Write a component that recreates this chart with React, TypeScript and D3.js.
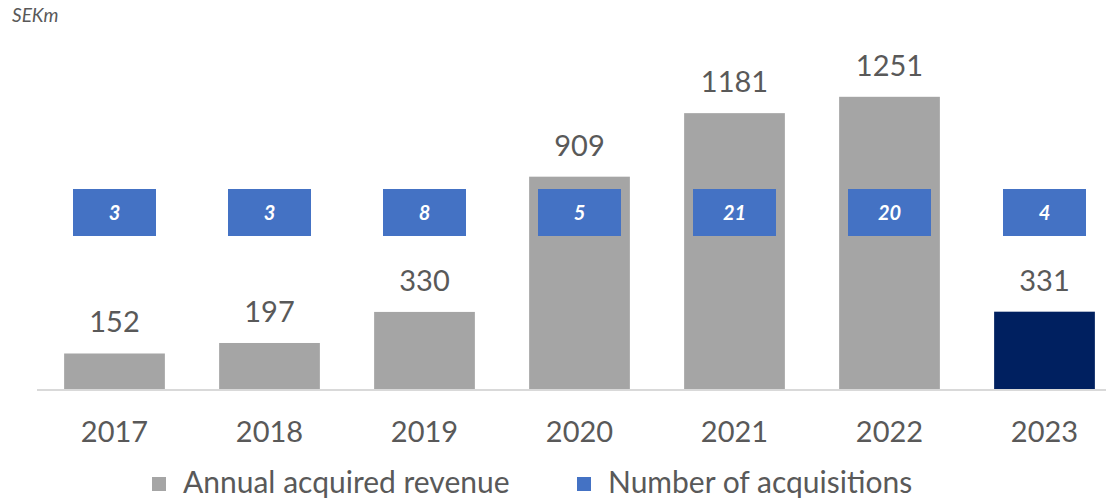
import * as d3 from "d3";
import { useEffect, useRef } from "react";

const years = ["2017", "2018", "2019", "2020", "2021", "2022", "2023"];
const revenue = [152, 197, 330, 909, 1181, 1251, 331];
const acquisitions = [3, 3, 8, 5, 21, 20, 4];
const highlightYear = "2023";
const legendItems = ["Annual acquired revenue", "Number of acquisitions"];

const W = 1106,
  H = 502;
const FONT = "Lato, 'Open Sans', sans-serif";

const App = () => {
  const ref = useRef<SVGSVGElement>(null);

  useEffect(() => {
    const svg = d3.select(ref.current);
    svg.selectAll("*").remove();

    const x = d3.scaleBand<string>()
      .domain(years)
      .range([37, 1122])
      .paddingInner(0.35)
      .paddingOuter(0.175);

    const y = d3.scaleLinear().domain([0, 1400]).range([389, 62]);

    // unit label
    svg.append("text")
      .attr("x", 12)
      .attr("y", 22)
      .attr("font-family", FONT)
      .attr("font-style", "italic")
      .attr("font-size", 19)
      .attr("fill", "#595959")
      .text("SEKm");

    // bars
    svg.selectAll("rect.bar")
      .data(years)
      .join("rect")
      .attr("class", "bar")
      .attr("x", d => x(d)!)
      .attr("width", x.bandwidth())
      .attr("y", (d, i) => y(revenue[i]))
      .attr("height", (d, i) => y(0) - y(revenue[i]))
      .attr("fill", d => d === highlightYear ? "#002060" : "#a5a5a5");

    // axis line
    svg.append("line")
      .attr("x1", 37)
      .attr("x2", W)
      .attr("y1", y(0) + 1)
      .attr("y2", y(0) + 1)
      .attr("stroke", "#d9d9d9")
      .attr("stroke-width", 2);

    // value labels
    svg.selectAll("text.val")
      .data(years)
      .join("text")
      .attr("class", "val")
      .attr("x", d => x(d)! + x.bandwidth() / 2)
      .attr("y", (d, i) => y(revenue[i]) - 21)
      .attr("text-anchor", "middle")
      .attr("font-family", FONT)
      .attr("font-size", 29)
      .attr("fill", "#595959")
      .text((d, i) => revenue[i]);

    // acquisitions boxes
    const boxW = 83,
      boxH = 47,
      boxY = 189;
    const g = svg.selectAll("g.acq")
      .data(years)
      .join("g")
      .attr("class", "acq")
      .attr("transform", d => `translate(${x(d)! + x.bandwidth() / 2},${boxY})`);
    g.append("rect")
      .attr("x", -boxW / 2)
      .attr("width", boxW)
      .attr("height", boxH)
      .attr("fill", "#4472c4");
    g.append("text")
      .attr("y", boxH / 2 + 7)
      .attr("text-anchor", "middle")
      .attr("font-family", FONT)
      .attr("font-weight", "bold")
      .attr("font-style", "italic")
      .attr("font-size", 20)
      .attr("fill", "#fff")
      .text((d, i) => acquisitions[i]);

    // x axis labels
    svg.selectAll("text.year")
      .data(years)
      .join("text")
      .attr("class", "year")
      .attr("x", d => x(d)! + x.bandwidth() / 2)
      .attr("y", 442)
      .attr("text-anchor", "middle")
      .attr("font-family", FONT)
      .attr("font-size", 29)
      .attr("fill", "#595959")
      .text(d => d);

    // legend
    const legendX = [152, 577];
    const legendColors = ["#a5a5a5", "#4472c4"];
    const lg = svg.selectAll("g.legend")
      .data(legendItems)
      .join("g")
      .attr("class", "legend")
      .attr("transform", (d, i) => `translate(${legendX[i]},477)`);
    lg.append("rect")
      .attr("width", 14)
      .attr("height", 14)
      .attr("fill", (d, i) => legendColors[i]);
    lg.append("text")
      .attr("x", 31)
      .attr("y", 16)
      .attr("font-family", FONT)
      .attr("font-size", 30)
      .attr("fill", "#595959")
      .text(d => d);
  }, []);

  return (
    <svg
      ref={ref}
      width={W}
      height={H}
      style={{ position: "absolute", left: 0, top: 0, background: "#fff" }}
    />
  );
};

export default App;
